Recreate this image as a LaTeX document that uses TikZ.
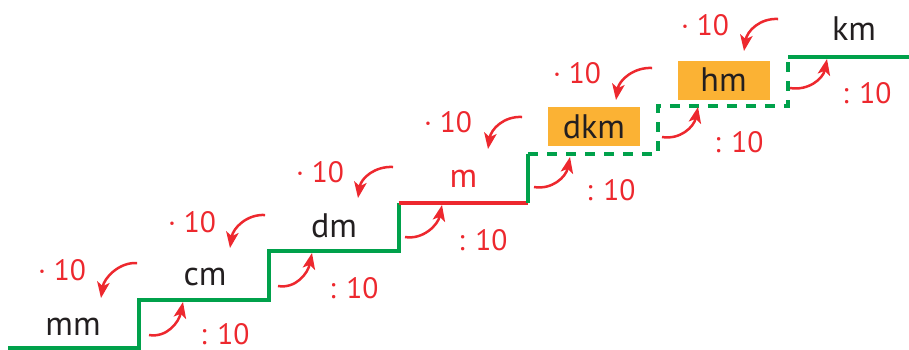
\documentclass[tikz,border=0pt]{standalone}
\usepackage{fontspec}
\setmainfont{PT Sans}
\usetikzlibrary{arrows.meta}
\definecolor{stgreen}{RGB}{0,161,75}
\definecolor{stred}{RGB}{237,40,46}
\definecolor{storange}{RGB}{251,178,52}
\definecolor{sttext}{RGB}{35,31,32}
\tikzset{
  tread/.style={line width=4pt, stgreen, line join=miter},
  dashtread/.style={tread, dash pattern=on 10pt off 9pt},
  redtread/.style={line width=4pt, stred},
  conv/.style={stred, line width=2.5pt, -{Stealth[length=16pt,width=12.5pt,inset=4pt]}},
  unit/.style={text=sttext, font=\fontsize{34}{34}\selectfont, anchor=base, inner sep=0pt},
  redunit/.style={unit, text=stred},
  hlbox/.style={fill=storange, text=sttext, font=\fontsize{34}{34}\selectfont, minimum width=92pt, minimum height=39pt, inner sep=0pt},
  factor/.style={text=stred, font=\fontsize{29.5}{29.5}\selectfont, anchor=base, inner sep=0pt},
}
\begin{document}
\begin{tikzpicture}[x=1pt,y=-1pt]
\useasboundingbox (0,0) rectangle (909,349);
% corners of the staircase
\coordinate (s0) at (8,348);
\coordinate (b1) at (139,348);    \coordinate (u1) at (139,299.5);
\coordinate (b2) at (268.8,299.5);\coordinate (u2) at (268.8,251);
\coordinate (b3) at (398.6,251);  \coordinate (u3) at (398.6,202.5);
\coordinate (b4) at (528.4,202.5);\coordinate (u4) at (528.4,154);
\coordinate (b5) at (658.2,154);  \coordinate (u5) at (658.2,105.5);
\coordinate (b6) at (788,105.5);  \coordinate (u6) at (788,57);
\coordinate (e7) at (909,57);
% staircase
\draw[tread] (s0) -- (b1) -- (u1) -- (b2) -- (u2) -- (b3) -- (u3);
\draw[redtread] (u3) -- (b4);
\draw[tread] (b4) -- (u4);
\draw[dashtread] (u4) -- (b5) -- (u5) -- (b6) -- (u6);
\draw[tread] (u6) -- (e7);
% units
\node[unit] (mm) at (73,335) {mm};
\node[unit] (cm) at (205,285) {cm};
\node[unit] (dm) at (334,237) {dm};
\node[redunit] (m) at (463.5,187) {m};
\node[hlbox] (dkm) at (594,126.5) {dkm};
\node[hlbox] (hm) at (723.5,80) {hm};
\node[unit] (km) at (854,40) {km};
% multiplication labels
\foreach \i/\x/\y in {1/62/280, 2/192/232, 3/320/182, 4/448/132, 5/577/83, 6/705/35}
  \node[factor] (mul\i) at (\x,\y) {· 10};
% division labels
\foreach \i/\x/\y in {1/225/344, 2/354/298.5, 3/483/250, 4/611/200, 5/739/152, 6/867/103}
  \node[factor] (div\i) at (\x,\y) {: 10};
% downward arrows (multiply)
\foreach \i/\sx/\sy/\tx/\ty in {1/137/263/101/298, 2/265/215/230/248, 3/393/167/358/198, 4/522/117/488/149, 5/652/68/616/100, 6/778/19/744/51}{
  \coordinate (ds\i) at (\sx,\sy);
  \coordinate (dt\i) at (\tx,\ty);
  \draw[conv] (ds\i) .. controls +(-18,-1) and +(3,-20) .. (dt\i);
}
% upward arrows (divide)
\foreach \i/\sx/\sy/\tx/\ty in {1/149/335/183/302, 2/278/286/312/253, 3/405/237/442/205, 4/534/187/570/157, 5/662/137/698/107, 6/790/88/827/59}{
  \coordinate (us\i) at (\sx,\sy);
  \coordinate (ut\i) at (\tx,\ty);
  \draw[conv] (us\i) .. controls +(18,3) and +(-4,20) .. (ut\i);
}
\end{tikzpicture}
\end{document}
